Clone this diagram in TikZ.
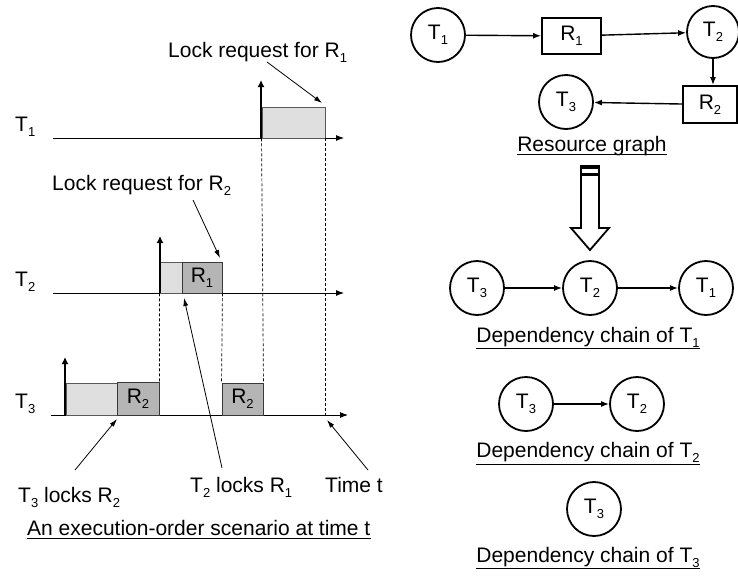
\documentclass[tikz,border=0pt]{standalone}
\usepackage{fontspec}
\setmainfont{Liberation Sans}
\usetikzlibrary{arrows.meta}
\newcommand{\sbs}[1]{\raisebox{-5pt}{\fontsize{13}{13}\selectfont #1}}
\begin{document}
\begin{tikzpicture}[x=1pt,y=-1pt,
  font=\fontsize{21}{24}\selectfont,
  txt/.style={inner sep=0pt, anchor=base west},
  ctxt/.style={inner sep=0pt, anchor=base},
  axis/.style={line width=0.9pt, -{Latex[length=8pt,width=6pt]}},
  tvert/.style={line width=2.4pt, -{Latex[length=7pt,width=7pt]}},
  lightbox/.style={draw=gray!70!black, fill=gray!25, line width=0.9pt, inner sep=0pt},
  darkbox/.style={draw=gray!45!black, fill=gray!58, line width=0.9pt, inner sep=0pt},
  dline/.style={dash pattern=on 3pt off 2pt, line width=0.7pt},
  pointer/.style={line width=0.8pt, -{Latex[length=8pt,width=5pt]}},
  circ/.style={circle, draw, line width=1.8pt, minimum size=54pt, inner sep=0pt},
  rbox/.style={draw, line width=1.8pt, inner sep=0pt},
  garrow/.style={line width=1.4pt, -{Latex[length=8pt,width=6pt]}},
  uline/.style={line width=0.9pt}]
\useasboundingbox (0,0) rectangle (738,576);

% ---------- left: timelines ----------
\node[txt] (lt1) at (15,131) {T\sbs{1}};
\node[txt] (lt2) at (15,286) {T\sbs{2}};
\node[txt] (lt3) at (15,408) {T\sbs{3}};

\coordinate (a1s) at (53,138); \coordinate (a1e) at (344,138);
\coordinate (a2s) at (53,293); \coordinate (a2e) at (344,293);
\coordinate (a3s) at (51,415); \coordinate (a3e) at (348,415);
\draw[axis] (a1s) -- (a1e);
\draw[axis] (a2s) -- (a2e);
\draw[axis] (a3s) -- (a3e);

% T1 boxes
\node[lightbox, minimum width=63pt, minimum height=31pt] (b1) at (293.5,122.5) {};
% T2 boxes
\node[lightbox, minimum width=22pt, minimum height=31pt] (b2l) at (171,277.5) {};
\node[darkbox, minimum width=40pt, minimum height=31pt] (b2r) at (202,277.5) {R\sbs{1}};
% T3 boxes
\node[lightbox, minimum width=51pt, minimum height=32pt] (b3l) at (91.5,399) {};
\node[darkbox, minimum width=42pt, minimum height=33pt] (b3r) at (138,398.5) {R\sbs{2}};
\node[darkbox, minimum width=41pt, minimum height=32pt] (b3s) at (242.5,399) {R\sbs{2}};

% vertical start arrows
\coordinate (v1s) at (261,138); \coordinate (v1e) at (261,80);
\coordinate (v2s) at (160,293); \coordinate (v2e) at (160,236);
\coordinate (v3s) at (65,415);  \coordinate (v3e) at (65,357);
\draw[tvert] (v1s) -- (v1e);
\draw[tvert] (v2s) -- (v2e);
\draw[tvert] (v3s) -- (v3e);

% dashed guides
\draw[dline] (b1.south west) -- (b3s.north east);
\draw[dline] (b1.south east) -- (b1.south east |- a3s);
\draw[dline] (b2l.south west) -- (b3r.north east);
\draw[dline] (b2r.south east) -- (b3s.north west);

% labels with pointers
\node[txt] (lr1) at (168,57) {Lock request for R\sbs{1}};
\coordinate (p1s) at (267,62); \coordinate (p1e) at (322,103);
\draw[pointer] (p1s) -- (p1e);

\node[txt] (lr2) at (52,190) {Lock request for R\sbs{2}};
\coordinate (p2s) at (193,200); \coordinate (p2e) at (220,258);
\draw[pointer] (p2s) -- (p2e);

\node[txt] (l3) at (18,502) {T\sbs{3} locks R\sbs{2}};
\coordinate (p3s) at (75,470); \coordinate (p3e) at (117,419);
\draw[pointer] (p3s) -- (p3e);

\node[txt] (l2) at (190,492) {T\sbs{2} locks R\sbs{1}};
\coordinate (p4s) at (222,468); \coordinate (p4e) at (184,298);
\draw[pointer] (p4s) -- (p4e);

\node[txt] (lt) at (325,492) {Time t};
\coordinate (p5s) at (368,470); \coordinate (p5e) at (327,420);
\draw[pointer] (p5s) -- (p5e);

\node[txt] (cap1) at (27,535) {An execution-order scenario at time t};
\draw[uline] ([yshift=-3pt]cap1.base west) -- ([yshift=-3pt]cap1.base east);

% ---------- right: resource graph ----------
\node[circ] (gT1) at (438,35) {T\sbs{1}};
\node[rbox, minimum width=59pt, minimum height=36pt] (gR1) at (571.5,36) {R\sbs{1}};
\node[circ, minimum size=52pt] (gT2) at (713,32) {T\sbs{2}};
\node[rbox, minimum width=54pt, minimum height=37pt] (gR2) at (710,104.5) {R\sbs{2}};
\node[circ] (gT3) at (566,102) {T\sbs{3}};
\draw[garrow] (gT1) -- (gR1);
\draw[garrow] (gR1) -- (gT2);
\draw[garrow] (gT2.south) -- (gT2.south |- gR2.north);
\draw[garrow] (gR2) -- (gT3);

\node[ctxt] (cap2) at (592,151) {Resource graph};
\draw[uline] ([yshift=-3pt]cap2.base west) -- ([yshift=-3pt]cap2.base east);

% hollow striped arrow
\fill (581,165) rectangle (599,169);
\fill (581,172.5) rectangle (599,176);
\draw[line width=1.8pt, line join=miter] (581,165) -- (581,228) -- (571,228) -- (590,250) -- (609,228) -- (599,228) -- (599,165);

% ---------- dependency chains ----------
\node[circ] (c1a) at (477,288) {T\sbs{3}};
\node[circ] (c1b) at (590,288) {T\sbs{2}};
\node[circ] (c1c) at (706,288) {T\sbs{1}};
\draw[garrow] (c1a) -- (c1b);
\draw[garrow] (c1b) -- (c1c);
\node[ctxt] (cap3) at (588,342) {Dependency chain of T\sbs{1}};
\draw[uline] ([yshift=-6pt]cap3.base west) -- ([yshift=-6pt]cap3.base east);

\node[circ] (c2a) at (526,404) {T\sbs{3}};
\node[circ] (c2b) at (637,404) {T\sbs{2}};
\draw[garrow] (c2a) -- (c2b);
\node[ctxt] (cap4) at (588,457) {Dependency chain of T\sbs{2}};
\draw[uline] ([yshift=-7pt]cap4.base west) -- ([yshift=-7pt]cap4.base east);

\node[circ] (c3a) at (594,509) {T\sbs{3}};
\node[ctxt] (cap5) at (588,562) {Dependency chain of T\sbs{3}};
\draw[uline] ([yshift=-6pt]cap5.base west) -- ([yshift=-6pt]cap5.base east);
\end{tikzpicture}
\end{document}
